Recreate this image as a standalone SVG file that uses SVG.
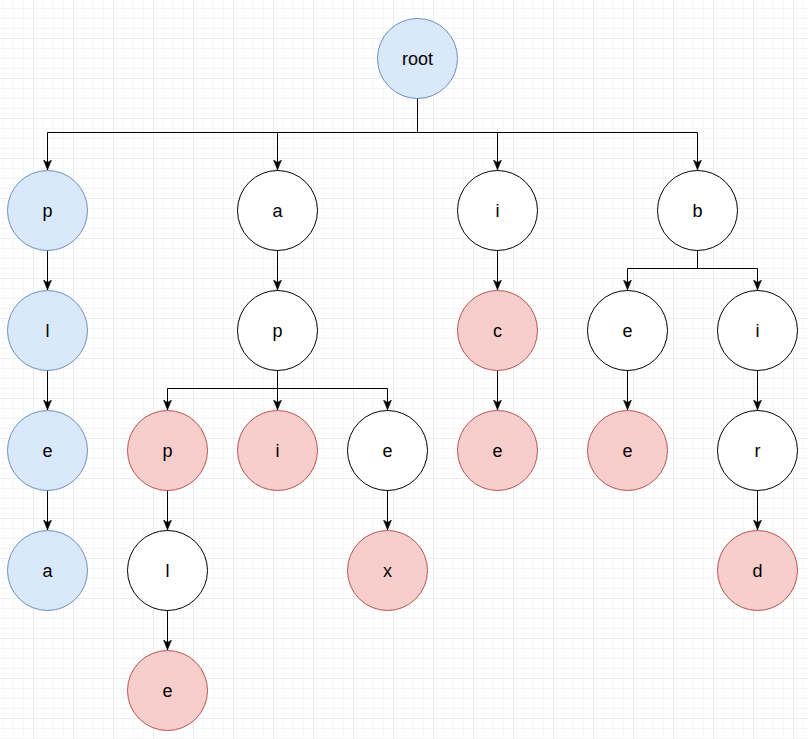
<svg xmlns="http://www.w3.org/2000/svg" width="808" height="739" viewBox="0 0 808 739">
<style>
.n circle{stroke-width:1}
.blue circle{fill:#dae8fc;stroke:#6c8ebf}
.red circle{fill:#f8cecc;stroke:#b85450}
.white circle{fill:#ffffff;stroke:#000000}
.n text{font-family:"Liberation Sans",Arial,sans-serif;font-size:18px;fill:#000;text-anchor:middle;dominant-baseline:central}
#edges path{fill:none;stroke:#000;stroke-width:1}
</style>
<defs>
<pattern id="minor" patternUnits="userSpaceOnUse" x="3" y="8" width="10" height="10">
<path d="M0.5,0V10M0,0.5H10" stroke="#f7f7f7" stroke-width="1" fill="none"/>
</pattern>
<pattern id="major" patternUnits="userSpaceOnUse" x="33" y="38" width="40" height="40">
<path d="M0.5,0V40M0,0.5H40" stroke="#ececec" stroke-width="1" fill="none"/>
</pattern>
<marker id="arr" viewBox="0 0 10 10" refX="10" refY="5" markerWidth="10" markerHeight="10" markerUnits="userSpaceOnUse" orient="auto">
<path d="M0,1 L10,5 L0,9 L2.5,5 Z" fill="#000" stroke="#000" stroke-width="0.5"/>
</marker>
</defs>
<rect width="808" height="739" fill="#ffffff"/>
<rect width="808" height="739" fill="url(#minor)"/>
<rect width="808" height="739" fill="url(#major)"/>
<g id="edges">
<path d="M417.5,98 V132.5 H47.5 V170" marker-end="url(#arr)"/>
<path d="M417.5,132.5 H277.5 V170" marker-end="url(#arr)"/>
<path d="M417.5,132.5 H497.5 V170" marker-end="url(#arr)"/>
<path d="M417.5,132.5 H697.5 V170" marker-end="url(#arr)"/>
<path d="M47.5,250 V290" marker-end="url(#arr)"/>
<path d="M47.5,370 V410" marker-end="url(#arr)"/>
<path d="M47.5,490 V530" marker-end="url(#arr)"/>
<path d="M277.5,250 V290" marker-end="url(#arr)"/>
<path d="M277.5,370 V388.5 H167.5 V410" marker-end="url(#arr)"/>
<path d="M277.5,370 V410" marker-end="url(#arr)"/>
<path d="M277.5,388.5 H387.5 V410" marker-end="url(#arr)"/>
<path d="M167.5,490 V530" marker-end="url(#arr)"/>
<path d="M167.5,610 V650" marker-end="url(#arr)"/>
<path d="M387.5,490 V530" marker-end="url(#arr)"/>
<path d="M497.5,250 V290" marker-end="url(#arr)"/>
<path d="M497.5,370 V410" marker-end="url(#arr)"/>
<path d="M697.5,250 V268.5 H627.5 V290" marker-end="url(#arr)"/>
<path d="M697.5,268.5 H757.5 V290" marker-end="url(#arr)"/>
<path d="M627.5,370 V410" marker-end="url(#arr)"/>
<path d="M757.5,370 V410" marker-end="url(#arr)"/>
<path d="M757.5,490 V530" marker-end="url(#arr)"/>
</g>
<g id="root" class="n blue"><circle cx="417.5" cy="58.5" r="40"/><text x="417.5" y="58.5">root</text></g>
<g id="n_p1" class="n blue"><circle cx="47.5" cy="210.5" r="40"/><text x="47.5" y="210.5">p</text></g>
<g id="n_l1" class="n blue"><circle cx="47.5" cy="330.5" r="40"/><text x="47.5" y="330.5">l</text></g>
<g id="n_e1" class="n blue"><circle cx="47.5" cy="450.5" r="40"/><text x="47.5" y="450.5">e</text></g>
<g id="n_a1" class="n blue"><circle cx="47.5" cy="570.5" r="40"/><text x="47.5" y="570.5">a</text></g>
<g id="n_a2" class="n white"><circle cx="277.5" cy="210.5" r="40"/><text x="277.5" y="210.5">a</text></g>
<g id="n_p2" class="n white"><circle cx="277.5" cy="330.5" r="40"/><text x="277.5" y="330.5">p</text></g>
<g id="n_p3" class="n red"><circle cx="167.5" cy="450.5" r="40"/><text x="167.5" y="450.5">p</text></g>
<g id="n_i3" class="n red"><circle cx="277.5" cy="450.5" r="40"/><text x="277.5" y="450.5">i</text></g>
<g id="n_e3" class="n white"><circle cx="387.5" cy="450.5" r="40"/><text x="387.5" y="450.5">e</text></g>
<g id="n_l4" class="n white"><circle cx="167.5" cy="570.5" r="40"/><text x="167.5" y="570.5">l</text></g>
<g id="n_e5" class="n red"><circle cx="167.5" cy="690.5" r="40"/><text x="167.5" y="690.5">e</text></g>
<g id="n_x4" class="n red"><circle cx="387.5" cy="570.5" r="40"/><text x="387.5" y="570.5">x</text></g>
<g id="n_i1" class="n white"><circle cx="497.5" cy="210.5" r="40"/><text x="497.5" y="210.5">i</text></g>
<g id="n_c2" class="n red"><circle cx="497.5" cy="330.5" r="40"/><text x="497.5" y="330.5">c</text></g>
<g id="n_e6" class="n red"><circle cx="497.5" cy="450.5" r="40"/><text x="497.5" y="450.5">e</text></g>
<g id="n_b1" class="n white"><circle cx="697.5" cy="210.5" r="40"/><text x="697.5" y="210.5">b</text></g>
<g id="n_e7" class="n white"><circle cx="627.5" cy="330.5" r="40"/><text x="627.5" y="330.5">e</text></g>
<g id="n_e8" class="n red"><circle cx="627.5" cy="450.5" r="40"/><text x="627.5" y="450.5">e</text></g>
<g id="n_i7" class="n white"><circle cx="757.5" cy="330.5" r="40"/><text x="757.5" y="330.5">i</text></g>
<g id="n_r7" class="n white"><circle cx="757.5" cy="450.5" r="40"/><text x="757.5" y="450.5">r</text></g>
<g id="n_d7" class="n red"><circle cx="757.5" cy="570.5" r="40"/><text x="757.5" y="570.5">d</text></g>
</svg>
